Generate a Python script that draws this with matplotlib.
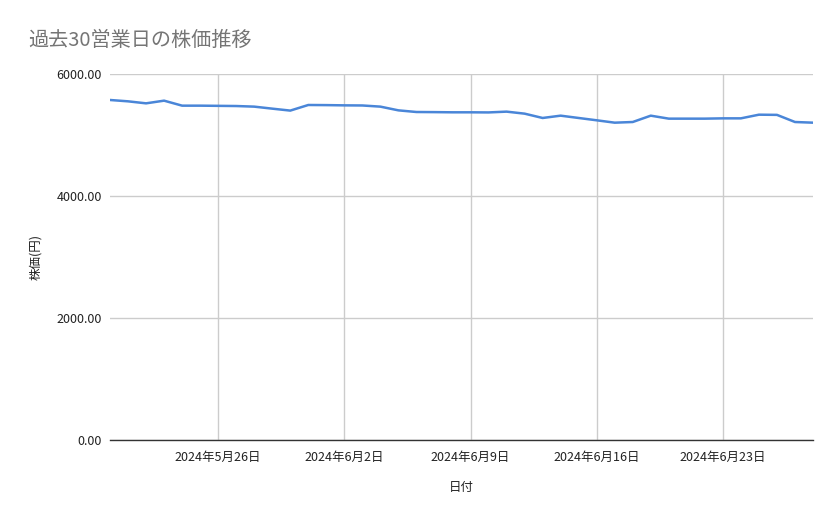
import matplotlib
matplotlib.use("Agg")
import matplotlib.pyplot as plt
import matplotlib.dates as mdates
import pandas as pd
import numpy as np

plt.rcParams['font.family'] = ['Noto Sans CJK JP', 'DejaVu Sans']

title = "過去30営業日の株価推移"
xlabel = "日付"
ylabel = "株価(円)"

dates = pd.date_range("2024-05-20", "2024-06-28", freq="D")
prices = [5574, 5552, 5519, 5563, 5481, 5481, 5478, 5475, 5465, 5432,
          5400, 5492, 5490, 5486, 5484, 5465, 5404, 5377, 5375, 5372,
          5372, 5370, 5383, 5350, 5279, 5317, 5279, 5241, 5202, 5213,
          5317, 5268, 5268, 5268, 5273, 5273, 5333, 5330, 5213, 5202]
yticks = [0, 2000, 4000, 6000]
xtick_dates = pd.to_datetime(["2024-05-26", "2024-06-02", "2024-06-09", "2024-06-16", "2024-06-23"])
xtick_labels = ["2024年5月26日", "2024年6月2日", "2024年6月9日", "2024年6月16日", "2024年6月23日"]

fig = plt.figure(figsize=(8.39, 5.19), dpi=100)
ax = fig.add_axes([110/839, 1-440/519, (813-110)/839, (440-74)/519])

ax.plot(dates, prices, color="#4a86d8", linewidth=1.8, solid_joinstyle="round")
ax.set_xlim(dates[0], dates[-1])
ax.set_ylim(0, 6000)
ax.set_yticks(yticks)
ax.set_yticklabels([f"{v:.2f}" for v in yticks])
ax.set_xticks(xtick_dates)
ax.set_xticklabels(xtick_labels)

ax.grid(True, color="#cccccc", linewidth=1)
ax.set_axisbelow(True)
for s in ["top", "right", "left"]:
    ax.spines[s].set_visible(False)
ax.spines["bottom"].set_color("#333333")
ax.spines["bottom"].set_linewidth(1)
ax.tick_params(axis="both", length=0, labelsize=9, colors="#222222", pad=8)
ax.tick_params(axis="y", pad=6)

ax.set_xlabel(xlabel, fontsize=9, color="#222222", labelpad=12)
ax.set_ylabel(ylabel, fontsize=9, color="#222222", labelpad=10)

fig.text(28/839, 1-40/519, title, fontsize=14.5, color="#757575", va="center", ha="left")

fig.savefig("out.png", dpi=100)
